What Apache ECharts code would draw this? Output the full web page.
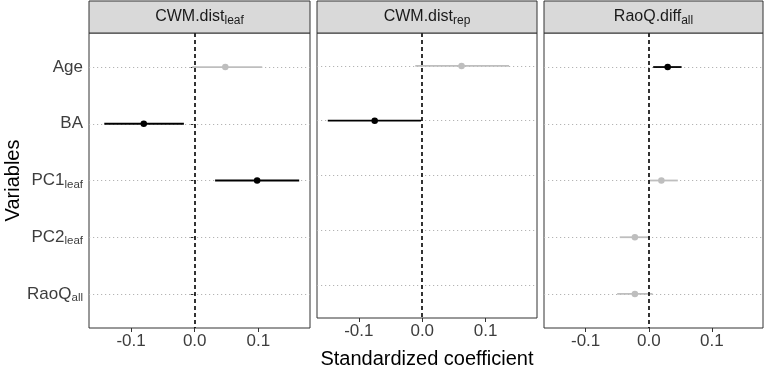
<!DOCTYPE html>
<html><head><meta charset="utf-8">
<script src="https://cdn.jsdelivr.net/npm/echarts@6/dist/echarts.min.js"></script>
<style>html,body{margin:0;padding:0;background:#fff}#c{width:765px;height:374px}</style>
</head><body><div id="c"></div>
<script>
// ---- data ----
const variables = ['Age', 'BA', 'PC1', 'PC2', 'RaoQ'];
const variableSubs = ['', '', 'leaf', 'leaf', 'all'];
const panelNames = ['CWM.dist', 'CWM.dist', 'RaoQ.diff'];
const panelSubs = ['leaf', 'rep', 'all'];
const xTicks = [-0.1, 0.0, 0.1];

const estLeaf = [0.048, -0.080, 0.098, null, null];
const lowLeaf = [-0.004, -0.142, 0.032, null, null];
const highLeaf = [0.106, -0.017, 0.164, null, null];
const sigLeaf = [0, 1, 1, null, null];

const estRep = [0.062, -0.075, null, null, null];
const lowRep = [-0.011, -0.149, null, null, null];
const highRep = [0.137, -0.002, null, null, null];
const sigRep = [0, 1, null, null, null];

const estRao = [0.030, null, 0.020, -0.022, -0.022];
const lowRao = [0.007, null, 0.001, -0.046, -0.050];
const highRao = [0.052, null, 0.046, 0.002, 0.006];
const sigRao = [1, null, 0, 0, 0];

const panels = [
  { est: estLeaf, low: lowLeaf, high: highLeaf, sig: sigLeaf },
  { est: estRep, low: lowRep, high: highRep, sig: sigRep },
  { est: estRao, low: lowRao, high: highRao, sig: sigRao }
];

// ---- layout ----
const FONT = '"Liberation Sans", Arial, sans-serif';
const grids = [
  { left: 89, top: 33, width: 221, height: 295 },
  { left: 317, top: 33, width: 220, height: 295 },
  { left: 544, top: 33, width: 219, height: 295 }
];
const BLACK = '#000000', GREY = '#BEBEBE';
const LABEL = '#3d3d3d';

const chart = echarts.init(document.getElementById('c'), null, { renderer: 'canvas' });

const rowVals = variables.map((_, k) => k + 1);

const xAxes = grids.map((g, i) => ({
  type: 'value', gridIndex: i, min: -0.166, max: 0.181,
  axisLine: { show: false }, splitLine: { show: false },
  axisTick: { show: true, customValues: xTicks, length: 4, lineStyle: { color: '#333', width: 1 } },
  axisLabel: { customValues: xTicks, formatter: v => v.toFixed(1), fontSize: 17, color: LABEL, margin: 5, fontFamily: FONT },
  name: i === 1 ? 'Standardized coefficient' : '',
  nameLocation: 'middle', nameGap: 31,
  nameTextStyle: { fontSize: 20, color: '#000', fontFamily: FONT }
}));

const yAxes = grids.map((g, i) => ({
  type: 'value', gridIndex: i, min: 0.4, max: 5.6, inverse: true,
  axisLine: { show: false }, splitLine: { show: false },
  axisTick: { show: i === 0, customValues: rowVals, length: 4, lineStyle: { color: '#333', width: 1 } },
  axisLabel: {
    show: i === 0, customValues: rowVals, margin: 6, fontFamily: FONT,
    formatter: v => {
      const k = Math.round(v) - 1;
      const s = variableSubs[k];
      return s ? '{a|' + variables[k] + '}{s|' + s + '}' : '{a|' + variables[k] + '}';
    },
    rich: {
      a: { fontSize: 17, color: LABEL, fontFamily: FONT, lineHeight: 20, verticalAlign: 'middle' },
      s: { fontSize: 11.5, color: LABEL, fontFamily: FONT, lineHeight: 10, verticalAlign: 'bottom' }
    }
  },
  name: i === 0 ? 'Variables' : '',
  nameLocation: 'middle', nameGap: 63, nameRotate: 90,
  nameTextStyle: { fontSize: 20, color: '#000', fontFamily: FONT }
}));

const series = [];
panels.forEach((p, i) => {
  // dotted horizontal gridlines
  series.push({
    type: 'line', xAxisIndex: i, yAxisIndex: i, data: [], z: 1, silent: true,
    markLine: {
      z: 1, silent: true, symbol: 'none', animation: false, label: { show: false },
      lineStyle: { type: [1.2, 2.8], color: '#b4b4b4', width: 1 },
      data: rowVals.map(v => ({ yAxis: v }))
    }
  });
  const rows = [];
  const pts = [];
  p.est.forEach((e, k) => {
    if (e === null) return;
    rows.push([p.low[k], p.high[k], k + 1, p.sig[k]]);
    pts.push([e, k + 1, p.sig[k]]);
  });
  series.push({
    type: 'custom', xAxisIndex: i, yAxisIndex: i, z: 6, animation: false,
    encode: { x: [0, 1], y: 2 },
    data: rows,
    renderItem: (params, api) => {
      const a = api.coord([api.value(0), api.value(2)]);
      const b = api.coord([api.value(1), api.value(2)]);
      return {
        type: 'line',
        shape: { x1: a[0], y1: a[1], x2: b[0], y2: b[1] },
        style: { stroke: api.value(3) ? BLACK : GREY, lineWidth: 1.8 }
      };
    }
  });
  // dashed zero line
  series.push({
    type: 'line', xAxisIndex: i, yAxisIndex: i, data: [], z: 7, silent: true,
    markLine: {
      z: 7, silent: true, symbol: 'none', animation: false, label: { show: false },
      lineStyle: { type: [4, 3], color: '#000', width: 1.6 },
      data: [{ xAxis: 0 }]
    }
  });
  series.push({
    type: 'scatter', xAxisIndex: i, yAxisIndex: i, z: 8, animation: false,
    symbolSize: 6.5, data: pts,
    itemStyle: { color: params => params.data[2] ? BLACK : GREY, opacity: 1 }
  });
});

const graphics = [];
grids.forEach((g, i) => {
  graphics.push({
    type: 'rect', z: 10,
    shape: { x: g.left, y: 1, width: g.width, height: 32 },
    style: { fill: '#d9d9d9', stroke: '#333', lineWidth: 1 }
  });
  graphics.push({
    type: 'text', z: 11,
    style: {
      text: '{a|' + panelNames[i] + '}{s|' + panelSubs[i] + '}',
      x: g.left + g.width / 2, y: 17, align: 'center', verticalAlign: 'middle',
      rich: {
        a: { fontSize: 16, fill: '#1a1a1a', fontFamily: FONT, lineHeight: 20, verticalAlign: 'middle' },
        s: { fontSize: 12, fill: '#1a1a1a', fontFamily: FONT, lineHeight: 10, verticalAlign: 'bottom' }
      }
    }
  });
});

chart.setOption({
  animation: false,
  backgroundColor: '#ffffff',
  textStyle: { fontFamily: FONT },
  grid: grids.map(g => Object.assign({ show: true, borderColor: '#333', borderWidth: 1, backgroundColor: 'transparent' }, g)),
  xAxis: xAxes,
  yAxis: yAxes,
  series: series,
  graphic: graphics
});
</script>
</body></html>
